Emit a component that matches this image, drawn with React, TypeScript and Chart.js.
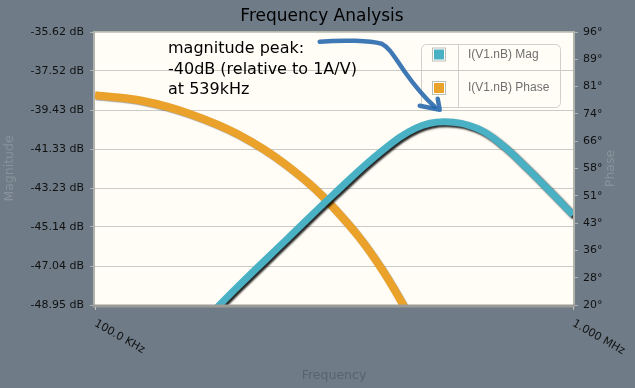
import React, { useEffect, useRef } from "react";
import { Chart, registerables } from "chart.js";

Chart.register(...registerables);

// ---- data ----
const magFreqHz = [100e3, 126e3, 158e3, 200e3, 251e3, 316e3, 398e3, 470e3, 539e3, 631e3, 708e3, 794e3, 891e3, 1000e3];
const magDb = [-54.5, -52.6, -50.4, -48.0, -45.78, -43.53, -41.43, -40.3, -40.0, -40.33, -41.1, -42.18, -43.35, -44.55];

const phaseFreqHz = [100e3, 126e3, 158e3, 200e3, 251e3, 316e3, 398e3, 501e3];
const phaseDeg = [78.4, 76.8, 73.2, 67.4, 59.0, 47.0, 30.0, 6.5];

const magTickLabels = ["-48.95 dB", "-47.04 dB", "-45.14 dB", "-43.23 dB", "-41.33 dB", "-39.43 dB", "-37.52 dB", "-35.62 dB"];
const magMin = -48.95;
const magMax = -35.62;

const phaseTickLabels = ["20°", "28°", "36°", "43°", "51°", "58°", "66°", "74°", "81°", "89°", "96°"];
const phaseMin = 20;
const phaseMax = 96;

const freqTickValues = [100e3, 1e6];
const freqTickLabels = ["100.0 KHz", "1.000 MHz"];

const seriesNames = ["I(V1.nB) Mag", "I(V1.nB) Phase"];
const seriesColors = ["#4ab1c5", "#eaa22b"];

const chartTitle = "Frequency Analysis";
const xTitle = "Frequency";
const yTitle = "Magnitude";
const y1Title = "Phase";
const noteLines = ["magnitude peak:", "-40dB (relative to 1A/V)", "at 539kHz"];
const peakFreqHz = 539e3;
const peakDb = -40;

const BG = "#6f7c88";
const PLOT_BG = "#fffdf6";

const decorPlugin = {
  id: "decor",
  beforeDraw(chart: any) {
    const { ctx, chartArea: a } = chart;
    ctx.save();
    ctx.fillStyle = BG;
    ctx.fillRect(0, 0, chart.width, chart.height);
    ctx.fillStyle = PLOT_BG;
    ctx.fillRect(a.left, a.top, a.right - a.left, a.bottom - a.top);
    ctx.restore();
  },
  beforeDatasetDraw(chart: any, args: any) {
    const ctx = chart.ctx;
    ctx.save();
    if (args.index === 0) {
      ctx.shadowColor = "rgba(0,0,0,0.85)";
      ctx.shadowOffsetX = 2;
      ctx.shadowOffsetY = 2;
      ctx.shadowBlur = 2;
    } else {
      ctx.shadowColor = "rgba(0,0,0,0.35)";
      ctx.shadowOffsetX = 1;
      ctx.shadowOffsetY = 1;
      ctx.shadowBlur = 1;
    }
  },
  afterDatasetDraw(chart: any) {
    chart.ctx.restore();
  },
  afterDraw(chart: any) {
    const { ctx, chartArea: a, scales } = chart;
    const xs = scales.x;
    const ys = scales.y;
    ctx.save();

    // plot border
    ctx.strokeStyle = "#b7b7b0";
    ctx.lineWidth = 1;
    ctx.beginPath();
    ctx.moveTo(a.left, a.top - 0.5);
    ctx.lineTo(a.right, a.top - 0.5);
    ctx.stroke();
    ctx.lineWidth = 2;
    ctx.strokeStyle = "#b3b3ad";
    ctx.beginPath();
    ctx.moveTo(a.left - 1, a.top - 1);
    ctx.lineTo(a.left - 1, a.bottom);
    ctx.moveTo(a.right + 1, a.top - 1);
    ctx.lineTo(a.right + 1, a.bottom);
    ctx.stroke();
    ctx.lineWidth = 3;
    ctx.strokeStyle = "#9c9c97";
    ctx.beginPath();
    ctx.moveTo(a.left - 2, a.bottom + 1);
    ctx.lineTo(a.right + 2, a.bottom + 1);
    ctx.stroke();

    // x ticks + rotated labels
    ctx.font = "11px 'DejaVu Sans'";
    ctx.fillStyle = "#111";
    ctx.textAlign = "left";
    ctx.textBaseline = "top";
    freqTickValues.forEach((v, i) => {
      const px = xs.getPixelForValue(v);
      ctx.strokeStyle = "#c4c4be";
      ctx.lineWidth = 1;
      ctx.beginPath();
      ctx.moveTo(px + 0.5, a.bottom + 2);
      ctx.lineTo(px + 0.5, a.bottom + 5);
      ctx.stroke();
      ctx.save();
      ctx.translate(px + 3, a.bottom + 13);
      ctx.rotate((30 * Math.PI) / 180);
      ctx.fillText(freqTickLabels[i], 0, 0);
      ctx.restore();
    });

    // title
    ctx.font = "17px 'DejaVu Sans'";
    ctx.fillStyle = "#000";
    ctx.textAlign = "center";
    ctx.textBaseline = "alphabetic";
    ctx.fillText(chartTitle, 322, 21);

    // axis titles
    ctx.font = "12.5px 'DejaVu Sans'";
    ctx.fillStyle = "#59636c";
    ctx.textBaseline = "middle";
    ctx.fillText(xTitle, (a.left + a.right) / 2, 376);
    ctx.fillStyle = "#8a939b";
    ctx.save();
    ctx.translate(10, (a.top + a.bottom) / 2);
    ctx.rotate(-Math.PI / 2);
    ctx.fillText(yTitle, 0, 0);
    ctx.restore();
    ctx.save();
    ctx.translate(611, (a.top + a.bottom) / 2);
    ctx.rotate(-Math.PI / 2);
    ctx.fillText(y1Title, 0, 0);
    ctx.restore();

    // legend
    const lx = 421.5, ly = 44.5, lw = 139, lh = 63, r = 5;
    ctx.strokeStyle = "#d0d0cc";
    ctx.lineWidth = 1;
    ctx.beginPath();
    ctx.moveTo(lx + r, ly);
    ctx.lineTo(lx + lw - r, ly);
    ctx.arcTo(lx + lw, ly, lx + lw, ly + r, r);
    ctx.lineTo(lx + lw, ly + lh - r);
    ctx.arcTo(lx + lw, ly + lh, lx + lw - r, ly + lh, r);
    ctx.lineTo(lx + r, ly + lh);
    ctx.arcTo(lx, ly + lh, lx, ly + lh - r, r);
    ctx.lineTo(lx, ly + r);
    ctx.arcTo(lx, ly, lx + r, ly, r);
    ctx.closePath();
    ctx.stroke();
    ctx.beginPath();
    ctx.moveTo(458.5, ly);
    ctx.lineTo(458.5, ly + lh);
    ctx.stroke();
    const rowY = [54.5, 88];
    seriesNames.forEach((name, i) => {
      const cy = rowY[i];
      ctx.fillStyle = "#ffffff";
      ctx.fillRect(432, cy - 7, 14, 14);
      ctx.strokeStyle = "#bdbdb8";
      ctx.strokeRect(432.5, cy - 6.5, 13, 13);
      ctx.fillStyle = seriesColors[i];
      ctx.fillRect(434, cy - 5, 10, 10);
      ctx.fillStyle = "#707070";
      ctx.font = "12px 'Liberation Sans'";
      ctx.textAlign = "left";
      ctx.textBaseline = "middle";
      ctx.fillText(name, 468, cy);
    });

    // annotation text
    ctx.fillStyle = "#000";
    ctx.font = "16px 'DejaVu Sans'";
    ctx.textAlign = "left";
    ctx.textBaseline = "alphabetic";
    noteLines.forEach((t, i) => {
      ctx.fillText(t, a.left + 73, a.top + 21 + i * 20.5);
    });

    // arrow pointing at the peak
    const px = xs.getPixelForValue(peakFreqHz);
    const py = ys.getPixelForValue(peakDb);
    const tx = px - 5, ty = py - 12;
    ctx.strokeStyle = "rgba(36,102,172,0.88)";
    ctx.lineWidth = 4.5;
    ctx.lineCap = "round";
    ctx.lineJoin = "round";
    ctx.beginPath();
    ctx.moveTo(tx - 120, ty - 68);
    ctx.bezierCurveTo(tx - 95, ty - 70, tx - 70, ty - 69, tx - 58, ty - 66);
    ctx.bezierCurveTo(tx - 50, ty - 62, tx - 45, ty - 52, tx - 35, ty - 38);
    ctx.bezierCurveTo(tx - 25, ty - 24, tx - 15, ty - 12, tx - 5, ty - 3);
    ctx.stroke();
    ctx.beginPath();
    ctx.moveTo(tx - 20, ty - 4);
    ctx.lineTo(tx, ty);
    ctx.lineTo(tx - 2, ty - 11);
    ctx.stroke();

    ctx.restore();
  },
};

export default function App() {
  const canvasRef = useRef<HTMLCanvasElement | null>(null);

  useEffect(() => {
    if (!canvasRef.current) return;
    const chart = new Chart(canvasRef.current, {
      type: "line",
      data: {
        datasets: [
          {
            label: seriesNames[0],
            data: magFreqHz.map((f, i) => ({ x: f, y: magDb[i] })),
            yAxisID: "y",
            borderColor: seriesColors[0],
            backgroundColor: seriesColors[0],
            borderWidth: 7,
            pointRadius: 0,
            tension: 0.4,
            fill: false,
          },
          {
            label: seriesNames[1],
            data: phaseFreqHz.map((f, i) => ({ x: f, y: phaseDeg[i] })),
            yAxisID: "y1",
            borderColor: seriesColors[1],
            backgroundColor: seriesColors[1],
            borderWidth: 8,
            pointRadius: 0,
            tension: 0.4,
            fill: false,
          },
        ],
      },
      options: {
        responsive: false,
        animation: false,
        devicePixelRatio: 1,
        layout: { padding: { top: 32, left: 0, right: 0, bottom: 0 } },
        plugins: {
          legend: { display: false },
          title: { display: false },
          tooltip: { enabled: false },
        },
        scales: {
          x: {
            type: "logarithmic",
            min: freqTickValues[0],
            max: freqTickValues[1],
            grid: { display: false },
            border: { display: false },
            ticks: { display: false },
            afterFit: (s: any) => {
              s.height = 83;
            },
          },
          y: {
            type: "linear",
            position: "left",
            min: magMin,
            max: magMax,
            border: { display: false },
            grid: { color: "#cbcbc6", lineWidth: 1, drawTicks: true, tickLength: 5, tickColor: "#b3b3ad" },
            ticks: {
              autoSkip: false,
              padding: 6,
              color: "#111",
              font: { family: "DejaVu Sans", size: 11 },
              callback: (_v: any, i: number) => magTickLabels[i],
            },
            afterBuildTicks: (s: any) => {
              const n = magTickLabels.length;
              s.ticks = magTickLabels.map((_, i) => ({ value: magMin + (i * (magMax - magMin)) / (n - 1) }));
            },
            afterFit: (s: any) => {
              s.width = 95;
            },
          },
          y1: {
            type: "linear",
            position: "right",
            min: phaseMin,
            max: phaseMax,
            border: { display: false },
            grid: { drawOnChartArea: false, drawTicks: true, tickLength: 5, tickColor: "#b3b3ad" },
            ticks: {
              autoSkip: false,
              padding: 5,
              color: "#111",
              font: { family: "DejaVu Sans", size: 11 },
              callback: (_v: any, i: number) => phaseTickLabels[i],
            },
            afterBuildTicks: (s: any) => {
              const n = phaseTickLabels.length;
              s.ticks = phaseTickLabels.map((_, i) => ({ value: phaseMin + (i * (phaseMax - phaseMin)) / (n - 1) }));
            },
            afterFit: (s: any) => {
              s.width = 62;
            },
          },
        },
      } as any,
      plugins: [decorPlugin],
    });
    return () => chart.destroy();
  }, []);

  return (
    <div style={{ position: "fixed", left: 0, top: 0, width: 635, height: 388, background: BG }}>
      <canvas ref={canvasRef} width={635} height={388} style={{ display: "block" }} />
    </div>
  );
}
